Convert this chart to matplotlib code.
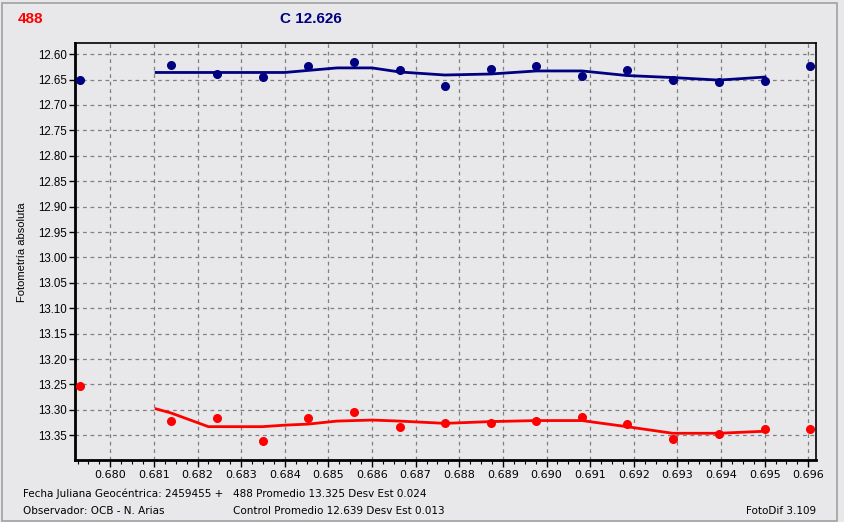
import matplotlib
matplotlib.use("Agg")
import matplotlib.pyplot as plt
from matplotlib.ticker import MultipleLocator, FormatStrFormatter
from matplotlib.patches import Rectangle

# ---- data ----
jd_frac = [0.67931, 0.68139, 0.68245, 0.68349, 0.68453, 0.68558, 0.68663, 0.68767,
           0.68872, 0.68977, 0.69081, 0.69184, 0.69289, 0.69395, 0.69501, 0.69603]
control_mag = [12.651, 12.621, 12.639, 12.644, 12.624, 12.615, 12.632, 12.662,
               12.630, 12.624, 12.642, 12.632, 12.650, 12.654, 12.652, 12.624]
target_mag = [13.252, 13.321, 13.315, 13.361, 13.315, 13.304, 13.334, 13.325,
              13.325, 13.321, 13.313, 13.328, 13.357, 13.347, 13.337, 13.337]

trend_x = [0.68105, 0.68139, 0.68225, 0.68349, 0.68400, 0.68453, 0.68520, 0.68600,
           0.68663, 0.68767, 0.68872, 0.68977, 0.69081, 0.69184, 0.69289, 0.69395, 0.69501]
control_trend = [12.636, 12.636, 12.636, 12.636, 12.636, 12.632, 12.627, 12.627,
                 12.635, 12.641, 12.639, 12.633, 12.633, 12.642, 12.646, 12.651, 12.645]
target_trend = [13.298, 13.306, 13.333, 13.333, 13.330, 13.328, 13.322, 13.320,
                13.322, 13.3265, 13.323, 13.321, 13.321, 13.333, 13.346, 13.346, 13.342]

bg = "#E8E8EA"
navy = "#000080"
red = "#FF0000"

fig = plt.figure(figsize=(8.44, 5.22), dpi=100, facecolor=bg)
ax = fig.add_axes([74.5/844, 1-460/522, (815.7-74.5)/844, (460-43)/522])
ax.set_facecolor(bg)

ax.plot(trend_x, control_trend, color=navy, lw=2, zorder=3)
ax.plot(jd_frac, control_mag, 'o', color=navy, ms=5.5, zorder=4, mec=navy)
ax.plot(trend_x, target_trend, color=red, lw=2, zorder=3)
ax.plot(jd_frac, target_mag, 'o', color=red, ms=5.5, zorder=4, mec=red)

ax.set_xlim(0.67918, 0.69617)
ax.set_ylim(13.3986, 12.578)

ax.xaxis.set_major_locator(MultipleLocator(0.001))
ax.xaxis.set_minor_locator(MultipleLocator(0.00025))
ax.xaxis.set_major_formatter(FormatStrFormatter('%.3f'))
ax.yaxis.set_major_locator(MultipleLocator(0.05))
ax.yaxis.set_major_formatter(FormatStrFormatter('%.2f'))

ax.grid(True, which='major', color='#808080', ls=(0, (3, 3)), lw=0.9)
ax.tick_params(axis='x', which='major', length=5, width=1, pad=2,
               labelsize=8, colors='black')
ax.tick_params(axis='x', which='minor', length=3, width=0.8)
ax.tick_params(axis='y', which='major', length=4, width=1, pad=1.5, labelsize=8.3)
for lab in ax.get_xticklabels():
    lab.set_family(['Liberation Sans Narrow', 'DejaVu Sans'])
for lab in ax.get_yticklabels():
    lab.set_family(['Liberation Sans', 'DejaVu Sans'])

for s in ['left', 'bottom']:
    ax.spines[s].set_linewidth(2)
for s in ['top', 'right']:
    ax.spines[s].set_linewidth(1.2)

fig.text(21.7/844, 1-252/522, "Fotometría absoluta", rotation=90, ha='center', va='center',
         fontsize=8, family=['Liberation Sans', 'DejaVu Sans'])

fig.text(18/844, 1-19/522, "488", color=red, fontsize=11, fontweight='bold',
         ha='left', va='center', family=['Liberation Sans', 'DejaVu Sans'])
fig.text(280/844, 1-19/522, "C 12.626", color=navy, fontsize=11, fontweight='bold',
         ha='left', va='center', family=['Liberation Sans', 'DejaVu Sans'])

small = dict(fontsize=7.5, family=['Liberation Sans Narrow', 'DejaVu Sans'], va='center', ha='left')
fig.text(23/844, 1-494/522, "Fecha Juliana Geocéntrica: 2459455 +", **small)
fig.text(23/844, 1-511/522, "Observador: OCB - N. Arias", **small)
fig.text(233/844, 1-494/522, "488 Promedio 13.325 Desv Est 0.024", **small)
fig.text(233/844, 1-511/522, "Control Promedio 12.639 Desv Est 0.013", **small)
fig.text(746/844, 1-511/522, "FotoDif 3.109", **small)

fig.patches.append(Rectangle((1.5/844, 1.5/522), 835/844, 518/522, transform=fig.transFigure,
                             fill=False, edgecolor='#A0A0A0', lw=1.2))

fig.savefig("out.png", dpi=100, facecolor=bg)
